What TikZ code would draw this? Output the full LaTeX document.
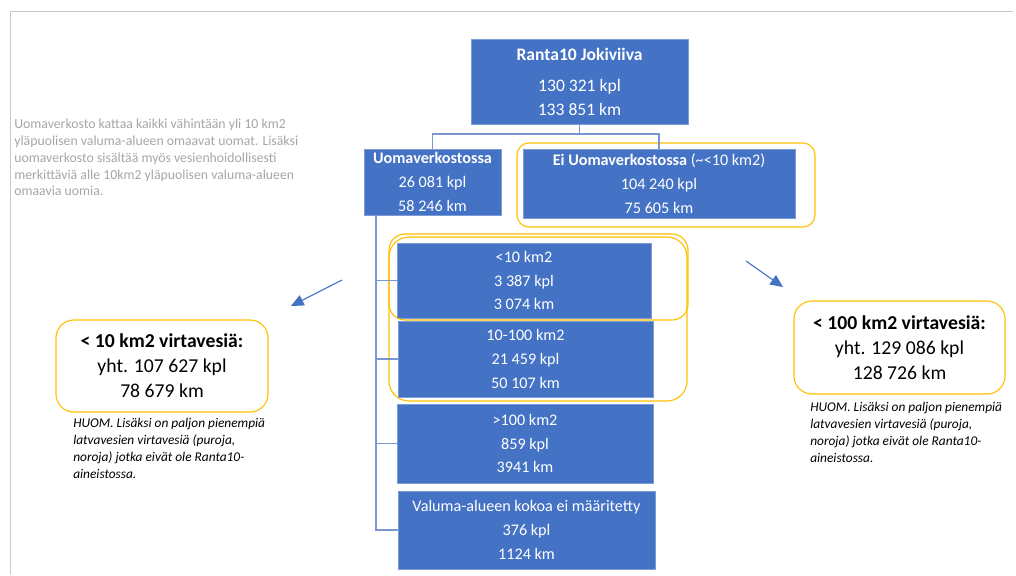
\documentclass[tikz,border=0pt]{standalone}
\usepackage{fontspec}
\setmainfont{Carlito}
\usetikzlibrary{arrows.meta}
\definecolor{boxblue}{HTML}{4472C4}
\definecolor{hlgold}{HTML}{FFC000}
\definecolor{notegray}{HTML}{A6A6A6}
\definecolor{linkblue}{HTML}{7A96D0}
\definecolor{framegray}{HTML}{C8C8C8}

\begin{document}
\begin{tikzpicture}[x=0.025cm, y=-0.025cm,
    blk/.style={fill=boxblue, draw=boxblue!70!white, line width=0.4pt, text=white, align=center, inner sep=0pt, font=\fontsize{11.5}{17}\selectfont},
    sumbox/.style={draw=hlgold, line width=0.8pt, rounded corners=0.45cm, align=center, inner sep=0pt, font=\fontsize{14}{17.8}\selectfont},
    hl/.style={draw=hlgold, line width=0.8pt},
    conn/.style={draw=linkblue, line width=0.8pt},
    pointer/.style={draw=boxblue, line width=0.8pt, -{Triangle[length=9pt,width=8pt]}},
    note/.style={align=left, inner sep=0pt, anchor=north west, font=\fontsize{9.5}{12}\selectfont\itshape}]
    \useasboundingbox (0,0) rectangle (1016,575);
    \draw[framegray, line width=1pt] (10.5,575) -- (10.5,11.5) -- (1013,11.5);

    \node[blk, minimum width=5.425cm, minimum height=2.125cm, font=\fontsize{12.5}{17}\selectfont] (jokiviiva) at (579.5,81.5) {\textbf{Ranta10 Jokiviiva}\\[5pt] 130 321 kpl\\ 133 851 km};
    \node[blk, minimum width=3.425cm, minimum height=1.65cm] (uoma) at (432.5,182) {\textbf{Uomaverkostossa}\\ 26 081 kpl\\ 58 246 km};
    \node[blk, minimum width=6.8cm, minimum height=1.725cm] (eiuoma) at (659,183.5) {\textbf{Ei Uomaverkostossa} (\textasciitilde<10 km2)\\ 104 240 kpl\\ 75 605 km};
    \node[blk, minimum width=6.35cm, minimum height=1.875cm] (alle10) at (524,280.5) {<10 km2\\ 3 387 kpl\\ 3 074 km};
    \node[blk, minimum width=6.375cm, minimum height=1.9cm] (val10100) at (525.5,359) {10-100 km2\\ 21 459 kpl\\ 50 107 km};
    \node[blk, minimum width=6.4cm, minimum height=1.975cm] (yli100) at (525,443.5) {>100 km2\\ 859 kpl\\ 3941 km};
    \node[blk, minimum width=6.425cm, minimum height=1.95cm] (eimaar) at (526.5,530) {Valuma-alueen kokoa ei määritetty\\ 376 kpl\\ 1124 km};

    \draw[hl, rounded corners=0.3cm] (517,143) rectangle (815,227);
    \draw[hl, rounded corners=0.4cm] (389,234) rectangle (688,320);
    \draw[hl, rounded corners=0.5cm] (389,237) rectangle (687,401);

    \coordinate (haara) at (579.5,134);
    \coordinate (runko) at (376,215);
    \draw[conn] (jokiviiva.south) -- (haara) -| (uoma.north);
    \draw[conn] (haara) -| (eiuoma.north);
    \draw[conn] (runko) |- (eimaar.west);
    \draw[conn] (runko |- alle10.west) -- (alle10.west);
    \draw[conn] (runko |- val10100.west) -- (val10100.west);
    \draw[conn] (runko |- yli100.west) -- (yli100.west);

    \coordinate (vasenalku) at (342,280);
    \coordinate (vasenkarki) at (291,306);
    \coordinate (oikeaalku) at (746,261);
    \coordinate (oikeakarki) at (783,287);
    \draw[pointer] (vasenalku) -- (vasenkarki);
    \draw[pointer] (oikeaalku) -- (oikeakarki);

    \node[sumbox, minimum width=5.3cm, minimum height=2.3cm] (alle10yht) at (162,366) {\textbf{< 10 km2 virtavesiä:}\\ yht. 107 627 kpl\\ 78 679 km};
    \node[sumbox, minimum width=5.275cm, minimum height=2.325cm] (alle100yht) at (899.5,347.5) {\textbf{< 100 km2 virtavesiä:}\\ yht. 129 086 kpl\\ 128 726 km};

    \node[note] (huomvasen) at (73,418) {HUOM. Lisäksi on paljon pienempiä\\ latvavesien virtavesiä (puroja,\\ noroja) jotka eivät ole Ranta10-\\ aineistossa.};
    \node[note] (huomoikea) at (810,402) {HUOM. Lisäksi on paljon pienempiä\\ latvavesien virtavesiä (puroja,\\ noroja) jotka eivät ole Ranta10-\\ aineistossa.};

    \node[align=left, inner sep=0pt, anchor=north west, text=notegray, font=\fontsize{9.8}{11.9}\selectfont] (selite) at (14,119) {Uomaverkosto kattaa kaikki vähintään yli 10 km2\\ yläpuolisen valuma-alueen omaavat uomat. Lisäksi\\ uomaverkosto sisältää myös vesienhoidollisesti\\ merkittäviä alle 10km2 yläpuolisen valuma-alueen\\ omaavia uomia.};
\end{tikzpicture}
\end{document}
